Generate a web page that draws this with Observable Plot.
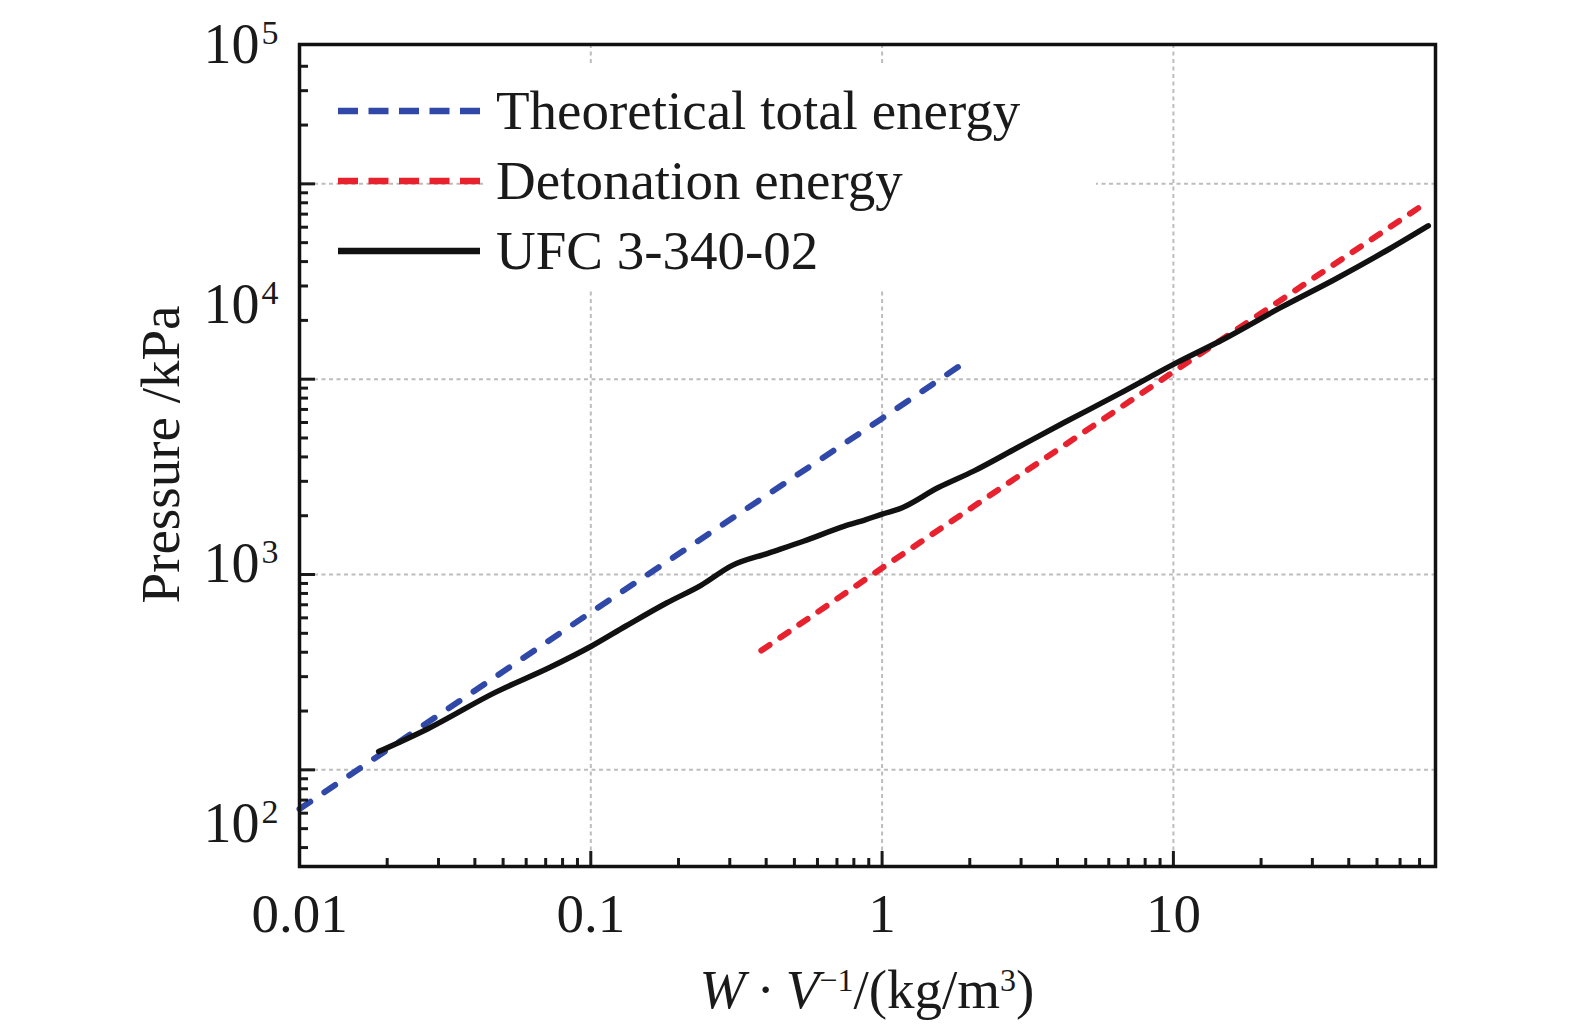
<!DOCTYPE html>
<html>
<head>
<meta charset="utf-8">
<script src="https://cdn.jsdelivr.net/npm/d3@7"></script>
<script src="https://cdn.jsdelivr.net/npm/@observablehq/plot@0.6"></script>
<style>
  html, body { margin: 0; padding: 0; background: #fff; }
  #wrap { position: relative; width: 1575px; height: 1030px; overflow: hidden;
          font-family: "Liberation Serif", "Times New Roman", serif; color: #1a1a1a; }
  #wrap > svg { position: absolute; left: 0; top: 0; }
  #legendBg { position: absolute; left: 486px; top: 66px; width: 610px; height: 222px; background: #fff; }
  #legend { position: absolute; left: 338px; top: 76px; }
  #legend .row { display: flex; align-items: center; height: 70px; }
  #legend .row svg { display: block; }
  #legend .txt { font-size: 55px; line-height: 70px; padding-left: 16px; white-space: nowrap; }
  #xtitle { position: absolute; left: 299px; width: 1136px; top: 962px; text-align: center;
            font-size: 55px; line-height: 55px; white-space: nowrap; }
  #xtitle sup { font-size: 32px; vertical-align: 0; position: relative; top: -17px; }
  #ytitle { position: absolute; left: -40px; top: 427px; width: 400px; height: 55px; text-align: center;
            font-size: 55px; line-height: 55px; transform: rotate(-90deg); transform-origin: 50% 50%; white-space: nowrap; }
</style>
</head>
<body>
<div id="wrap"></div>
<script>
// ---------- data ----------
const theoX = [0.01, 0.1, 1, 2.02];
const theoP = [63, 640, 6300, 12800];

const detX = [0.385, 1, 10, 71];
const detP = [408, 1080, 10900, 77000];

const ufcX = [0.0187, 0.0275, 0.0472, 0.0728, 0.1, 0.132, 0.182, 0.239, 0.305, 0.41, 0.537, 0.743, 0.88, 1.0, 1.14, 1.56, 2.07, 2.92, 4.22, 6.48, 10, 15.2, 23.4, 35.9, 55.1, 75];
const ufcP = [124, 162, 250, 336, 428, 545, 715, 880, 1110, 1290, 1480, 1770, 1910, 2040, 2160, 2787, 3394, 4470, 6000, 8380, 11900, 16300, 23300, 32500, 46400, 61000];

const seriesNames = ["Theoretical total energy", "Detonation energy", "UFC 3-340-02"];

const xTicks = [0.01, 0.1, 1, 10];
const xTickLabels = ["0.01", "0.1", "1", "10"];
const yTicks = [1e2, 1e3, 1e4, 1e5];
const yTickExp = ["2", "3", "4", "5"];

// ---------- config ----------
const W = 1575, H = 1030;
const M = {marginLeft: 299, marginRight: 140, marginTop: 44, marginBottom: 164};
const xDomain = [0.01, 79.4];
const yDomain = [32.0, 5.17e5];
// where the printed exponent labels sit in the original figure (offset from the tick marks)
const yLabelDomain = [68.5, 100500];

const BLUE = "#3049a8", RED = "#e8212e", BLACK = "#111";
const GRID = {stroke: "#bdbdbd", strokeOpacity: 1, strokeWidth: 2, strokeDasharray: "4,3.5"};

const toRows = (xs, ps) => xs.map((x, i) => ({x, p: ps[i]}));
const theo = toRows(theoX, theoP);
const det = toRows(detX, detP);
const ufc = toRows(ufcX, ufcP);

const minorOf = (decades, lo, hi) =>
  decades.flatMap(d => d3.range(2, 10).map(m => +(m * d).toPrecision(6))).filter(v => v > lo && v < hi);
const xMinor = minorOf([0.01, 0.1, 1, 10], xDomain[0], xDomain[1]);
const yMinor = minorOf([10, 1e2, 1e3, 1e4, 1e5], yDomain[0], 4.9e5);

const FONT = '"Liberation Serif", "Times New Roman", serif';

const main = Plot.plot({
  width: W, height: H, ...M,
  style: {fontFamily: FONT, fontSize: "55px", color: "#1a1a1a", background: "transparent"},
  x: {type: "log", domain: xDomain},
  y: {type: "log", domain: yDomain},
  marks: [
    Plot.gridX([0.1, 1, 10], GRID),
    Plot.gridY(yTicks, GRID),
    Plot.line(theo, {x: "x", y: "p", stroke: BLUE, strokeWidth: 6, strokeDasharray: "13,17", strokeLinecap: "round"}),
    Plot.line(det, {x: "x", y: "p", stroke: RED, strokeWidth: 6, strokeDasharray: "10,13", strokeLinecap: "round"}),
    Plot.line(ufc, {x: "x", y: "p", stroke: BLACK, strokeWidth: 5.5, strokeLinejoin: "round", strokeLinecap: "round", curve: "monotone-x"}),
    Plot.axisX(xMinor, {anchor: "bottom", tickSize: -8, strokeWidth: 3, fill: "none", label: null}),
    Plot.axisX(xTicks, {anchor: "bottom", tickSize: -15, strokeWidth: 3, fill: "none", label: null}),
    Plot.axisX(xTicks, {anchor: "bottom", tickSize: 0, tickPadding: 26, label: null,
      tickFormat: d => xTickLabels[xTicks.indexOf(d)], fontSize: 55}),
    Plot.axisY(yMinor, {anchor: "left", tickSize: -9, strokeWidth: 3, fill: "none", label: null}),
    Plot.axisY(yTicks, {anchor: "left", tickSize: -16, strokeWidth: 3, fill: "none", label: null}),
    Plot.frame({stroke: BLACK, strokeWidth: 3.5})
  ]
});

const labels = Plot.plot({
  width: W, height: H, ...M,
  style: {fontFamily: FONT, fontSize: "55px", color: "#1a1a1a", background: "transparent", pointerEvents: "none"},
  y: {type: "log", domain: yLabelDomain},
  marks: [
    Plot.axisY(yTicks, {anchor: "left", tickSize: 0, tickPadding: 21, label: null, fontSize: 56,
      tickFormat: d => "10^" + yTickExp[yTicks.indexOf(d)]})
  ]
});
labels.querySelectorAll('text').forEach(t => {
  const s = t.textContent;
  if (!s.includes("^")) return;
  const [b, e] = s.split("^");
  t.textContent = b;
  const ts = document.createElementNS("http://www.w3.org/2000/svg", "tspan");
  ts.setAttribute("dy", "-19");
  ts.setAttribute("dx", "2");
  ts.setAttribute("font-size", "34");
  ts.textContent = e;
  t.appendChild(ts);
});

const wrap = document.getElementById("wrap");
wrap.appendChild(main);
wrap.appendChild(labels);

// legend
const bg = document.createElement("div"); bg.id = "legendBg"; wrap.appendChild(bg);
const legend = document.createElement("div"); legend.id = "legend";
const legendStyles = [
  {stroke: BLUE, dash: "20,10.5"},
  {stroke: RED, dash: "20,10.5"},
  {stroke: BLACK, dash: null}
];
seriesNames.forEach((name, i) => {
  const row = document.createElement("div"); row.className = "row";
  const st = legendStyles[i];
  row.innerHTML = `<svg width="142" height="20"><line x1="0" y1="10" x2="142" y2="10" stroke="${st.stroke}" stroke-width="6.5" ${st.dash ? `stroke-dasharray="${st.dash}"` : ""}/></svg><div class="txt">${name}</div>`;
  legend.appendChild(row);
});
wrap.appendChild(legend);

// axis titles
const xt = document.createElement("div"); xt.id = "xtitle";
xt.innerHTML = '<i>W</i>\u2009·\u2009<i>V</i><sup>\u22121</sup>/(kg/m<sup>3</sup>)';
wrap.appendChild(xt);
const yt = document.createElement("div"); yt.id = "ytitle";
yt.textContent = "Pressure /kPa";
wrap.appendChild(yt);
</script>
</body>
</html>
